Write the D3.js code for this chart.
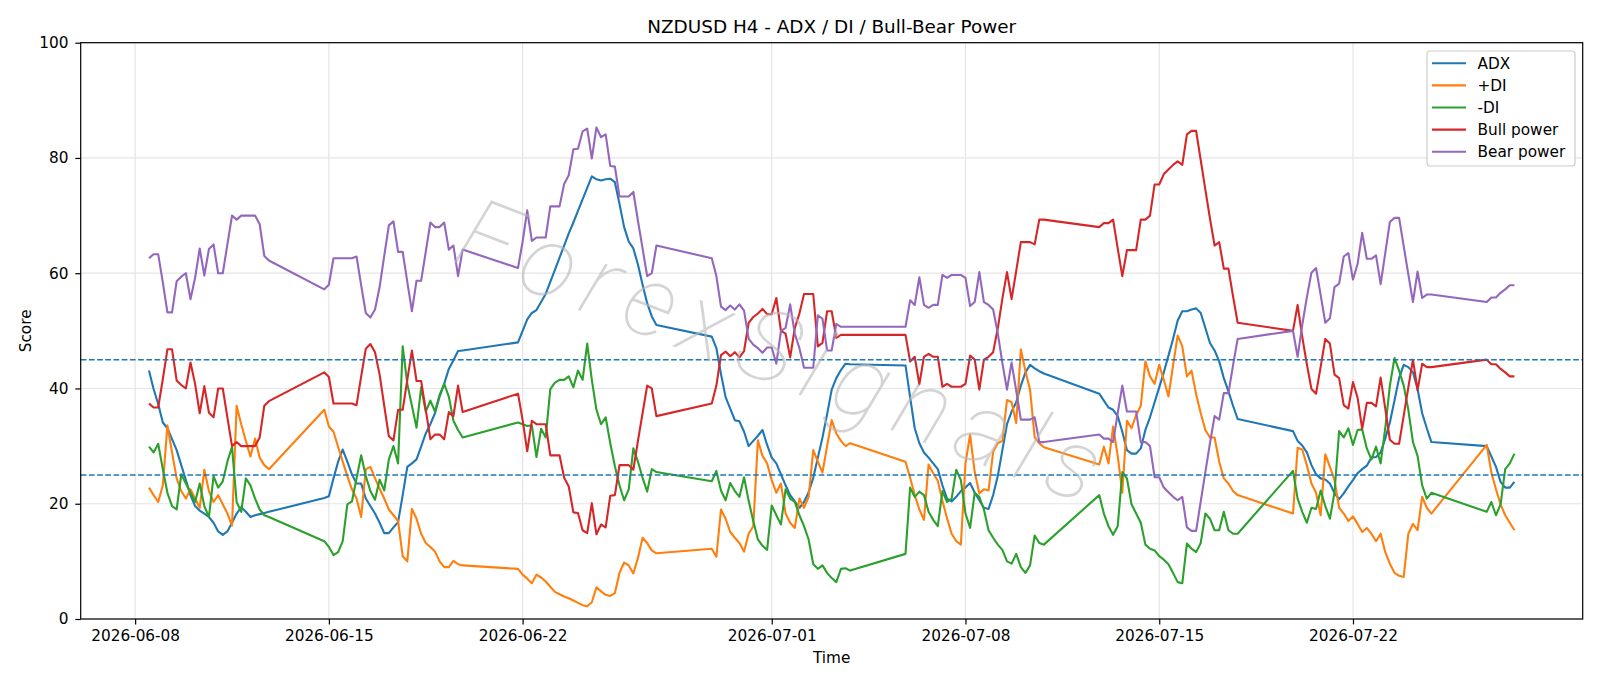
<!DOCTYPE html>
<html><head><meta charset="utf-8">
<script src="https://cdnjs.cloudflare.com/ajax/libs/d3/7.8.5/d3.min.js"></script>
<style>
body{margin:0;background:#fff}
svg{display:block}
text{font-family:"DejaVu Sans",sans-serif}
</style></head>
<body><svg id="c" width="1600" height="686"></svg>
<script>
// H4 trading sessions: [first bar, number of 4-hour bars]
const sessions = [
  ["2026-06-08T12:00:00Z", 27], ["2026-06-14T20:00:00Z", 31], ["2026-06-21T20:00:00Z", 31],
  ["2026-06-28T20:00:00Z", 31], ["2026-07-05T20:00:00Z", 31], ["2026-07-12T20:00:00Z", 31],
  ["2026-07-19T20:00:00Z", 31], ["2026-07-26T20:00:00Z", 7]
];
const tickLabels = ["2026-06-08","2026-06-15","2026-06-22","2026-07-01","2026-07-08","2026-07-15","2026-07-22"];
const yTicks = [0, 20, 40, 60, 80, 100];
const thresholds = [25, 45];

const adx = [
 43.1,39.9,37.3,34.1,33.1,31.2,29.3,26.7,24.1,21.5,19.6,18.8,18.3,17.7,16.7,15.2,14.6,15.2,16.7,18.3,19.4,18.6,17.7,18.0,18.2,18.4,18.6,
 21.0,21.3,24.4,27.3,29.4,27.3,25.1,23.5,23.5,20.9,19.6,18.3,16.7,14.9,14.9,15.9,16.8,21.5,26.4,27.0,27.7,29.9,32.2,33.8,35.7,38.6,40.8,43.4,44.9,46.5,46.6,
 48.0,50.0,52.0,53.1,53.6,55.0,56.4,58.5,60.6,62.7,64.8,66.9,68.8,70.8,72.8,74.8,76.8,76.3,76.1,76.3,76.4,75.8,72.0,68.0,65.5,64.3,61.5,58.0,54.8,52.5,51.0,
 49.0,47.0,42.5,38.5,36.5,34.5,34.3,32.5,30.0,30.9,31.8,32.8,30.2,28.0,27.0,25.1,23.2,21.5,20.4,19.3,20.3,22.0,24.5,28.0,31.5,35.5,39.8,41.8,43.2,44.3,44.2,
 44.0,38.5,33.1,30.5,28.9,28.0,27.0,26.0,23.2,20.9,20.4,21.2,22.2,22.8,23.6,21.9,20.6,19.3,19.1,21.5,24.8,29.3,33.8,36.0,37.6,40.5,42.8,44.1,43.5,43.0,42.6,
 39.1,37.9,36.7,36.3,35.2,32.5,29.3,28.7,28.7,29.6,32.8,35.0,37.6,40.2,42.8,45.7,48.6,51.8,53.4,53.4,53.7,53.9,53.1,50.5,47.9,46.6,44.7,41.8,39.5,37.0,34.7,
 32.6,30.9,30.1,28.9,26.7,25.1,24.4,24.2,23.5,21.8,20.8,21.8,23.0,24.1,25.3,26.0,26.6,28.0,28.1,28.9,31.3,34.1,37.9,41.8,44.1,43.7,42.8,39.9,35.7,33.1,30.7,
 30.0,28.2,26.4,23.8,22.8,22.8,23.8
];
const plusDI = [
 22.8,21.5,20.3,23.2,33.6,28.9,24.4,22.2,20.9,22.5,20.9,19.3,25.9,22.2,20.3,21.5,19.9,18.3,16.2,37.0,33.8,30.9,28.2,31.3,28.0,26.7,26.0,
 36.3,33.4,32.5,29.9,27.3,24.8,22.5,20.9,17.7,26.0,26.4,24.4,22.6,20.9,19.0,18.0,17.0,10.9,10.0,19.1,17.4,14.8,13.2,12.5,11.7,10.0,9.0,9.0,10.1,9.5,9.3,
 8.7,7.7,7.0,6.2,7.7,7.2,6.5,5.6,4.7,4.3,3.9,3.6,3.2,2.8,2.4,2.2,2.9,5.5,4.8,4.2,4.0,4.5,8.0,9.8,9.3,7.9,10.6,14.1,13.2,11.9,11.4,
 12.2,10.8,19.0,17.4,15.1,14.1,13.2,11.7,14.8,16.1,31.0,28.3,27.0,24.1,21.9,23.5,18.3,16.7,15.8,20.9,19.3,21.2,29.3,27.3,25.4,30.0,34.5,32.2,30.9,30.0,30.5,
 27.3,24.5,21.5,19.0,17.2,26.8,25.3,24.0,20.5,17.5,14.8,13.5,12.9,27.0,32.0,25.5,21.8,22.5,22.3,29.0,30.5,30.9,38.0,37.6,34.0,46.8,43.0,39.8,31.5,30.5,29.8,
 26.8,29.9,27.0,33.4,28.3,21.9,34.4,33.1,35.4,37.0,44.7,42.1,40.8,44.1,41.5,38.6,44.0,49.2,47.3,42.1,43.1,39.0,35.7,32.8,31.5,31.5,27.3,24.4,23.5,22.2,21.5,
 18.3,29.7,29.4,26.7,23.5,21.9,18.0,28.6,26.4,24.1,19.3,18.3,17.0,17.8,16.5,15.1,15.8,14.8,13.5,14.8,11.6,9.6,8.0,7.5,7.3,14.8,16.5,15.4,21.2,19.3,18.3,
 30.2,25.4,22.5,19.9,18.0,16.7,15.4
];
const minusDI = [
 29.9,28.9,30.4,26.0,21.9,19.6,19.0,25.1,23.5,21.9,20.3,23.5,19.6,17.7,24.8,22.8,23.9,27.3,29.9,20.3,18.6,24.4,23.2,20.9,19.0,18.0,17.7,
 13.5,12.5,11.1,11.6,13.5,19.9,20.4,24.4,28.4,24.8,22.2,20.7,24.2,22.3,27.7,30.0,27.0,47.3,40.8,37.0,33.2,40.2,36.0,37.9,36.0,38.9,40.8,38.6,34.4,32.8,31.5,
 34.1,33.8,33.5,33.6,28.1,33.0,31.5,39.9,41.0,41.5,41.5,42.1,40.2,43.1,41.5,47.8,41.5,36.3,33.8,35.0,30.5,26.5,23.2,20.6,22.5,29.6,27.3,24.5,22.1,26.0,25.5,
 23.9,25.7,22.3,20.6,23.6,22.2,21.2,24.6,20.5,17.0,13.8,12.7,12.0,19.7,18.0,16.4,22.5,20.9,20.3,18.0,16.1,13.8,9.5,8.7,9.3,8.0,7.1,6.4,8.7,8.8,8.4,
 11.3,22.8,21.2,22.1,21.5,18.6,17.2,16.1,22.2,20.3,20.9,25.9,24.1,18.3,15.8,21.9,21.2,19.0,15.4,14.1,12.9,12.0,10.0,9.6,11.3,9.0,8.0,9.3,14.5,13.2,12.9,
 21.5,18.3,16.1,14.6,16.1,25.5,24.4,19.9,18.3,16.7,12.9,12.2,11.9,10.9,10.3,9.5,8.0,6.4,6.2,13.1,12.2,11.6,13.2,18.3,17.4,15.4,15.4,18.6,15.4,14.8,14.8,
 25.7,20.9,18.6,16.7,19.3,19.1,22.3,19.6,17.4,22.0,32.6,31.5,33.1,30.2,32.8,32.9,29.6,27.7,29.9,27.0,33.1,40.5,45.3,43.1,40.5,36.3,30.7,28.3,23.2,20.9,21.9,
 18.6,20.3,18.0,19.9,26.0,27.0,28.7
];
const bullPower = [
 37.4,36.7,36.7,41.6,46.8,46.8,41.4,40.6,40.0,44.5,40.8,35.7,40.4,35.8,35.0,40.0,40.0,35.0,30.0,30.7,30.0,30.0,30.0,30.0,31.5,37.0,37.8,
 42.8,42.0,37.4,37.4,37.4,37.4,37.4,37.1,42.1,46.9,47.7,46.3,42.4,37.0,31.7,31.0,36.3,36.3,41.5,46.6,41.3,41.3,36.3,31.2,32.0,32.0,31.2,35.9,35.2,40.5,35.9,
 39.1,34.5,29.1,34.4,33.8,33.8,33.8,28.4,28.4,28.4,24.5,23.0,18.5,18.4,15.4,14.9,20.1,14.7,16.4,15.9,21.4,21.5,26.7,26.7,26.7,25.9,30.9,35.7,40.5,40.0,35.2,
 37.4,40.5,45.8,46.4,45.6,46.3,45.4,46.5,51.4,52.4,53.0,53.8,52.9,52.9,55.7,50.0,49.5,45.4,50.5,53.0,56.4,56.4,56.4,47.3,47.9,53.4,53.4,48.8,49.3,49.3,49.3,
 49.3,44.7,45.5,40.7,45.5,46.0,45.5,45.5,40.3,40.8,40.3,40.3,40.3,40.8,45.7,45.0,39.8,45.0,45.5,46.3,50.4,55.6,60.2,55.5,60.4,65.4,65.4,65.4,65.0,69.3,69.3,
 68.0,68.7,68.7,69.3,64.3,59.5,64.0,64.0,64.0,69.3,69.3,70.0,75.4,75.4,77.2,78.0,78.8,79.4,78.8,84.1,84.7,84.7,79.6,74.5,69.5,64.8,65.4,60.8,60.8,56.0,51.4,
 50.0,54.5,49.0,44.2,39.9,39.1,43.8,48.6,47.8,42.4,41.8,37.1,36.5,41.1,38.4,33.0,37.5,37.5,36.9,41.9,36.5,31.1,30.4,30.4,35.3,40.2,45.0,39.7,44.3,43.7,43.7,
 45.0,44.2,44.2,43.4,42.8,42.1,42.1
];
const bearPower = [
 62.6,63.3,63.3,58.4,53.2,53.2,58.6,59.4,60.0,55.5,59.2,64.3,59.6,64.2,65.0,60.0,60.0,65.0,70.0,69.3,70.0,70.0,70.0,70.0,68.5,63.0,62.2,
 57.2,58.0,62.6,62.6,62.6,62.6,62.6,62.9,57.9,53.1,52.3,53.7,57.6,63.0,68.3,69.0,63.7,63.7,58.5,53.4,58.7,58.7,63.7,68.8,68.0,68.0,68.8,64.1,64.8,59.5,64.1,
 60.9,65.5,70.9,65.6,66.2,66.2,66.2,71.6,71.6,71.6,75.5,77.0,81.5,81.6,84.6,85.1,79.9,85.3,83.6,84.1,78.6,78.5,73.3,73.3,73.3,74.1,69.1,64.3,59.5,60.0,64.8,
 62.6,59.5,54.2,53.6,54.4,53.7,54.6,53.5,48.6,47.6,47.0,46.2,47.1,47.1,44.3,50.0,50.5,54.6,49.5,47.0,43.6,43.6,43.6,52.7,52.1,46.6,46.6,51.2,50.7,50.7,50.7,
 50.7,55.3,54.5,59.3,54.5,54.0,54.5,54.5,59.7,59.2,59.7,59.7,59.7,59.2,54.3,55.0,60.2,55.0,54.5,53.7,49.6,44.4,39.8,44.5,39.6,34.6,34.6,34.6,35.0,30.7,30.7,
 32.0,31.3,31.3,30.7,35.7,40.5,36.0,36.0,36.0,30.7,30.7,30.0,24.6,24.6,22.8,22.0,21.2,20.6,21.2,15.9,15.3,15.3,20.4,25.5,30.5,35.2,34.6,39.2,39.2,44.0,48.6,
 50.0,45.5,51.0,55.8,60.1,60.9,56.2,51.4,52.2,57.6,58.2,62.9,63.5,58.9,61.6,67.0,62.5,62.5,63.1,58.1,63.5,68.9,69.6,69.6,64.7,59.8,55.0,60.3,55.7,56.3,56.3,
 55.0,55.8,55.8,56.6,57.2,57.9,57.9
];

const seriesNames = ["ADX", "+DI", "-DI", "Bull power", "Bear power"];
const seriesColors = ["#1f77b4", "#ff7f0e", "#2ca02c", "#d62728", "#9467bd"];
const seriesValues = [adx, plusDI, minusDI, bullPower, bearPower];

// build bar timestamps
const H4 = 4 * 3600 * 1000;
const times = [];
sessions.forEach(([s, n]) => { const t0 = Date.parse(s); for (let i = 0; i < n; i++) times.push(new Date(t0 + i * H4)); });

const L = 80.7, R = 1582.7, T = 42.7, B = 619;
const svg = d3.select("#c");
const tMin = +times[0], tMax = +times[times.length - 1], span = tMax - tMin;
const x = d3.scaleUtc().domain([tMin - 0.05 * span, tMax + 0.05 * span]).range([L, R]);
const y = d3.scaleLinear().domain([0, 100]).range([B, T]);
const tickDates = tickLabels.map(s => new Date(s + "T00:00:00Z"));

// grid
const grid = svg.append("g");
grid.selectAll(".gx").data(tickDates).enter().append("line")
  .attr("x1", d => x(d)).attr("x2", d => x(d)).attr("y1", T).attr("y2", B)
  .attr("stroke", "#e5e5e5").attr("stroke-width", 1.2);
grid.selectAll(".gy").data(yTicks).enter().append("line")
  .attr("x1", L).attr("x2", R).attr("y1", d => y(d)).attr("y2", d => y(d))
  .attr("stroke", "#e5e5e5").attr("stroke-width", 1.2);

// series
const line = d3.line().x((d, i) => x(times[i])).y(d => y(d));
seriesValues.forEach((vals, k) => {
  svg.append("path").datum(vals).attr("d", line)
    .attr("fill", "none").attr("stroke", seriesColors[k]).attr("stroke-width", 2.1)
    .attr("stroke-linejoin", "round");
});

// threshold lines
svg.selectAll(".th").data(thresholds).enter().append("line")
  .attr("x1", L).attr("x2", R).attr("y1", d => y(d)).attr("y2", d => y(d))
  .attr("stroke", "#1f77b4").attr("stroke-width", 1.5).attr("stroke-dasharray", "5.7,2.5");

// watermark
svg.append("text").text("ForexSignals")
  .attr("transform", "translate(780,350) rotate(21)")
  .attr("text-anchor", "middle").attr("dy", "0.35em")
  .attr("textLength", 680).attr("lengthAdjust", "spacing")
  .style("font-family", "Roboto, 'DejaVu Sans', sans-serif").style("font-weight", 100)
  .style("font-style", "italic").style("font-size", "100px")
  .attr("fill", "#b8b8b8").attr("fill-opacity", 0.6);

// axes
const xAxis = d3.axisBottom(x).tickValues(tickDates).tickFormat(d3.utcFormat("%Y-%m-%d"))
  .tickSize(5.4).tickPadding(6);
const gx = svg.append("g").attr("transform", `translate(0,${B})`).call(xAxis);
const yAxis = d3.axisLeft(y).tickValues(yTicks).tickSize(5.4).tickPadding(6.8);
const gy = svg.append("g").attr("transform", `translate(${L},0)`).call(yAxis);
[gx, gy].forEach(g => {
  g.select(".domain").remove();
  g.selectAll(".tick line").attr("stroke", "#000").attr("stroke-width", 1.2);
  g.selectAll(".tick text").attr("fill", "#000").style("font-size", "15.3px").style("font-family", "DejaVu Sans, sans-serif");
});

// frame
svg.append("rect").attr("x", L).attr("y", T).attr("width", R - L).attr("height", B - T)
  .attr("fill", "none").attr("stroke", "#000").attr("stroke-width", 1.2);

// labels
svg.append("text").text("NZDUSD H4 - ADX / DI / Bull-Bear Power")
  .attr("x", (L + R) / 2).attr("y", 32.5).attr("text-anchor", "middle").style("font-size", "18.4px");
svg.append("text").text("Time").attr("x", (L + R) / 2).attr("y", 663).attr("text-anchor", "middle").style("font-size", "15.3px");
svg.append("text").text("Score").attr("transform", `translate(30.5,${(T + B) / 2}) rotate(-90)`)
  .attr("text-anchor", "middle").style("font-size", "15.3px");

// legend
const lg = svg.append("g");
lg.append("rect").attr("x", 1427).attr("y", 51).attr("width", 148).attr("height", 115).attr("rx", 3)
  .attr("fill", "#fff").attr("fill-opacity", 0.8).attr("stroke", "#cccccc").attr("stroke-width", 1.2);
seriesNames.forEach((nm, i) => {
  const yy = 63.3 + i * 22.1;
  lg.append("line").attr("x1", 1432).attr("x2", 1466).attr("y1", yy).attr("y2", yy)
    .attr("stroke", seriesColors[i]).attr("stroke-width", 2.1);
  lg.append("text").text(nm).attr("x", 1477.5).attr("y", yy).attr("dy", "0.36em").style("font-size", "15.3px");
});
</script></body></html>
